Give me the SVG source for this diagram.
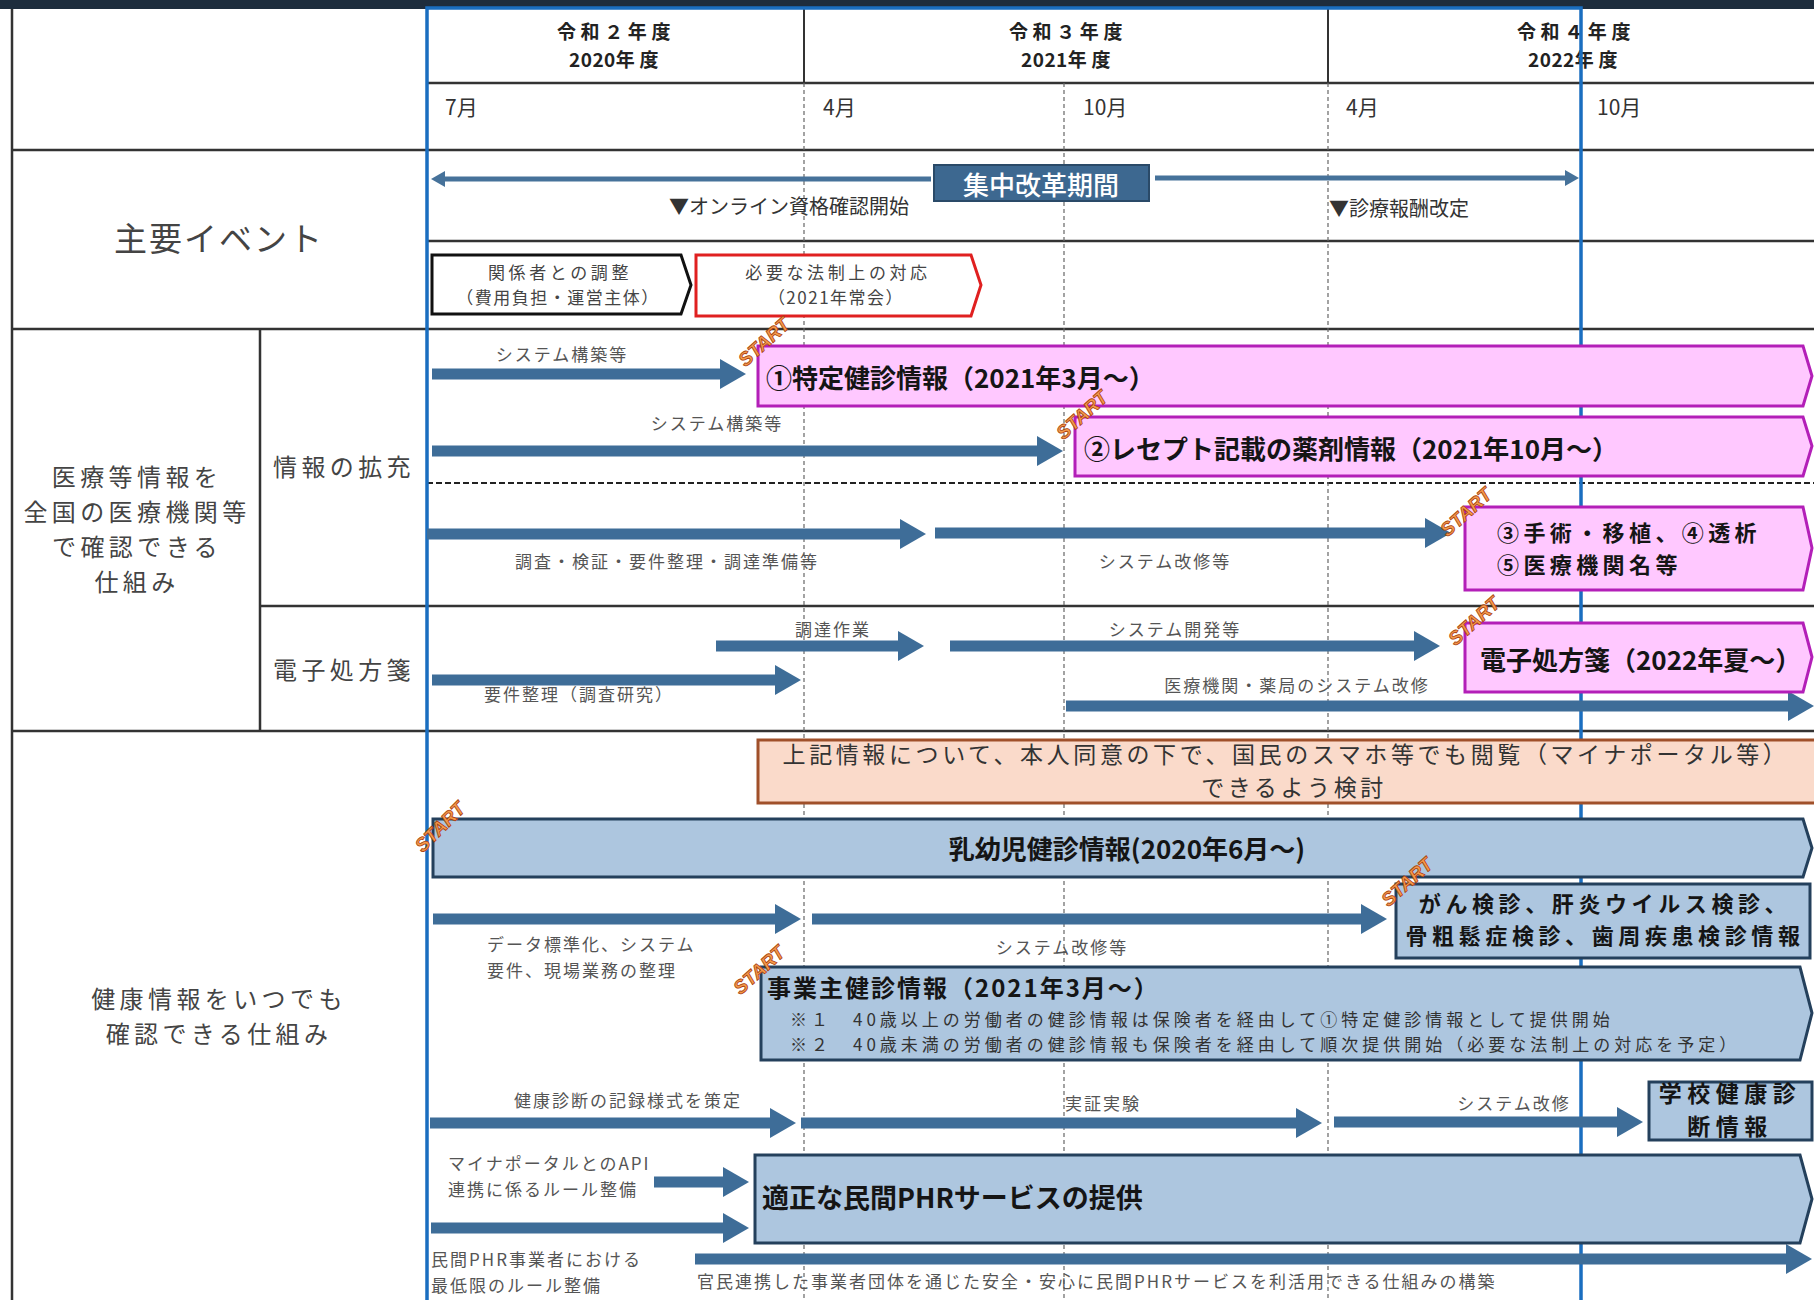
<svg xmlns="http://www.w3.org/2000/svg" width="1814" height="1300" viewBox="0 0 1814 1300">
<defs>
<style>
text{font-family:"Noto Sans CJK JP","Noto Sans CJK SC",sans-serif;dominant-baseline:central}
.yr{font-size:19px;letter-spacing:4.6px;font-weight:bold;fill:#222;text-anchor:middle}
.dg{letter-spacing:0.5px}
.mo{font-size:21px;fill:#333}
.side{font-size:24px;letter-spacing:4.4px;fill:#444;text-anchor:middle}
.ev{font-size:20px;fill:#333}
.pent{font-size:17px;fill:#444;text-anchor:middle}
.lbl{font-size:17px;letter-spacing:2px;fill:#555}
.c{text-anchor:middle}
.big{font-size:26px;font-weight:bold;fill:#151515}
.big2{font-size:22px;letter-spacing:4.4px;font-weight:bold;fill:#151515}
.note{font-size:17px;letter-spacing:4px;fill:#333}
.start{font-family:"Liberation Sans",Arial,sans-serif;font-size:19px;font-weight:bold;font-style:italic;fill:#F59A4A;stroke:#A83C0C;stroke-width:0.8;text-anchor:middle}
.grid{stroke:#333;stroke-width:2.5;fill:none}
.dash{stroke:#666;stroke-width:1.2;stroke-dasharray:4 3;fill:none}
.arr{stroke:#3E6D98;stroke-width:11;fill:none;marker-end:url(#ah)}
.thin{stroke:#46729A;stroke-width:5;fill:none;marker-end:url(#ahs)}
.pink{fill:#FFC8FF;stroke:#B31FB8;stroke-width:3}
.blue{fill:#ADC6DF;stroke:#24405C;stroke-width:3}
</style>
<marker id="ah" markerUnits="userSpaceOnUse" markerWidth="26" markerHeight="30" refX="0" refY="15" orient="auto"><path d="M0,0 L26,15 L0,30 Z" fill="#3E6D98"/></marker>
<marker id="ahs" markerUnits="userSpaceOnUse" markerWidth="14" markerHeight="16" refX="0" refY="8" orient="auto"><path d="M0,0 L14,8 L0,16 Z" fill="#46729A"/></marker>
</defs>
<rect x="0" y="0" width="1814" height="1300" fill="#fff"/>
<rect x="0" y="0" width="1814" height="9" fill="#1E2D3D"/>

<g id="grid">
<line class="grid" x1="12" y1="9" x2="12" y2="1300"/>
<line class="grid" x1="427" y1="83" x2="1814" y2="83"/>
<line class="grid" x1="12" y1="150" x2="1814" y2="150"/>
<line class="grid" x1="427" y1="241" x2="1814" y2="241"/>
<line class="grid" x1="12" y1="329" x2="1814" y2="329"/>
<line class="grid" x1="260" y1="329" x2="260" y2="731"/>
<line class="grid" x1="260" y1="606" x2="1814" y2="606"/>
<line class="grid" x1="12" y1="731" x2="1814" y2="731"/>
<line x1="427" y1="483" x2="1814" y2="483" stroke="#222" stroke-width="2" stroke-dasharray="6 3"/>
<line x1="804" y1="9" x2="804" y2="83" stroke="#333" stroke-width="2"/>
<line x1="1328" y1="9" x2="1328" y2="83" stroke="#333" stroke-width="2"/>
<line class="dash" x1="804" y1="83" x2="804" y2="1300"/>
<line class="dash" x1="1064" y1="83" x2="1064" y2="1300"/>
<line class="dash" x1="1328" y1="83" x2="1328" y2="1300"/>
</g>

<g id="header">
<text class="yr" x="616" y="30">令和２年度</text>
<text class="yr" x="616" y="58"><tspan class="dg">2020</tspan>年度</text>
<text class="yr" x="1068" y="30">令和３年度</text>
<text class="yr" x="1068" y="58"><tspan class="dg">2021</tspan>年度</text>
<text class="yr" x="1576" y="30">令和４年度</text>
<text class="yr" x="1575" y="58"><tspan class="dg">2022</tspan>年度</text>
<text class="mo" x="445" y="106">7月</text>
<text class="mo" x="823" y="106">4月</text>
<text class="mo" x="1083" y="106">10月</text>
<text class="mo" x="1346" y="106">4月</text>
<text class="mo" x="1597" y="106">10月</text>
</g>

<g id="side-labels">
<text class="side" x="219" y="237" style="font-size:33px;letter-spacing:2px">主要イベント</text>
<text class="side" x="137" y="475">医療等情報を</text>
<text class="side" x="137" y="510">全国の医療機関等</text>
<text class="side" x="137" y="545">で確認できる</text>
<text class="side" x="137" y="580">仕組み</text>
<text class="side" x="344" y="465">情報の拡充</text>
<text class="side" x="344" y="668">電子処方箋</text>
<text class="side" x="219" y="997">健康情報をいつでも</text>
<text class="side" x="219" y="1032">確認できる仕組み</text>
</g>

<rect id="frame" x="427" y="8" width="1154" height="1300" fill="none" stroke="#1A6EC0" stroke-width="3.5"/>

<g id="connectors">
<line class="thin" x1="931" y1="179" x2="445" y2="179"/>
<line class="thin" x1="1155" y1="178" x2="1565" y2="178"/>
<line class="arr" x1="432" y1="374" x2="720" y2="374"/>
<line class="arr" x1="432" y1="451" x2="1037" y2="451"/>
<line class="arr" x1="427" y1="534" x2="900" y2="534"/>
<line class="arr" x1="935" y1="533" x2="1425" y2="533"/>
<line class="arr" x1="716" y1="646" x2="898" y2="646"/>
<line class="arr" x1="432" y1="680" x2="775" y2="680"/>
<line class="arr" x1="950" y1="646" x2="1414" y2="646"/>
<line class="arr" x1="1066" y1="706" x2="1788" y2="706"/>
<line class="arr" x1="433" y1="919" x2="775" y2="919"/>
<line class="arr" x1="812" y1="919" x2="1361" y2="919"/>
<line class="arr" x1="430" y1="1123" x2="770" y2="1123"/>
<line class="arr" x1="801" y1="1123" x2="1296" y2="1123"/>
<line class="arr" x1="1334" y1="1122" x2="1617" y2="1122"/>
<line class="arr" x1="654" y1="1182" x2="723" y2="1182"/>
<line class="arr" x1="431" y1="1228" x2="723" y2="1228"/>
<line class="arr" x1="695" y1="1259" x2="1786" y2="1259"/>
</g>

<g id="events">
<g id="reform">
<rect x="934" y="165" width="215" height="36" fill="#3D6890" stroke="#2A4A68" stroke-width="2"/>
<text x="1041" y="183" class="c" style="font-size:26px;font-weight:500;fill:#fff">集中改革期間</text>
</g>
<text class="ev" x="669" y="205">▼オンライン資格確認開始</text>
<text class="ev" x="1329" y="207">▼診療報酬改定</text>
<g id="coord">
<path d="M432,255 H681 L691,285 L681,314 H432 Z" fill="#fff" stroke="#111" stroke-width="3"/>
<text class="pent" x="560" y="271" style="letter-spacing:3.6px">関係者との調整</text>
<text class="pent" x="558" y="296" style="letter-spacing:1.5px">（費用負担・運営主体）</text>
</g>
<g id="legal">
<path d="M696,255 H971 L981,285 L971,316 H696 Z" fill="#fff" stroke="#E02020" stroke-width="3"/>
<text class="pent" x="838" y="271" style="letter-spacing:3.6px">必要な法制上の対応</text>
<text class="pent" x="836" y="296" style="letter-spacing:1.5px">（2021年常会）</text>
</g>
</g>

<g id="labels">
<text class="lbl c" x="562" y="353">システム構築等</text>
<text class="lbl c" x="717" y="422">システム構築等</text>
<text class="lbl c" x="667" y="560">調査・検証・要件整理・調達準備等</text>
<text class="lbl c" x="1165" y="560">システム改修等</text>
<text class="lbl c" x="833" y="628">調達作業</text>
<text class="lbl c" x="579" y="693">要件整理（調査研究）</text>
<text class="lbl c" x="1175" y="628">システム開発等</text>
<text class="lbl c" x="1297" y="684">医療機関・薬局のシステム改修</text>
<text class="lbl" x="487" y="943">データ標準化、システム</text>
<text class="lbl" x="487" y="969">要件、現場業務の整理</text>
<text class="lbl c" x="1062" y="946">システム改修等</text>
<text class="lbl c" x="628" y="1099">健康診断の記録様式を策定</text>
<text class="lbl" x="1065" y="1102">実証実験</text>
<text class="lbl c" x="1514" y="1102">システム改修</text>
<text class="lbl" x="448" y="1162">マイナポータルとのAPI</text>
<text class="lbl" x="448" y="1188">連携に係るルール整備</text>
<text class="lbl" x="431" y="1258">民間PHR事業者における</text>
<text class="lbl" x="431" y="1284">最低限のルール整備</text>
<text class="lbl" x="697" y="1280">官民連携した事業者団体を通じた安全・安心に民間PHRサービスを利活用できる仕組みの構築</text>
</g>

<g id="n-tokutei">
<path class="pink" d="M758,346 H1803 L1812,376 L1803,406 H758 Z"/>
<text class="big" x="766" y="376">①特定健診情報（2021年3月～）</text>
</g>
<g id="n-receipt">
<path class="pink" d="M1075,417 H1803 L1812,446 L1803,476 H1075 Z"/>
<text class="big" x="1084" y="447">②レセプト記載の薬剤情報（2021年10月～）</text>
</g>
<g id="n-surgery">
<path class="pink" d="M1465,507 H1803 L1812,548 L1803,590 H1465 Z"/>
<text class="big2" x="1497" y="531">③手術・移植、④透析</text>
<text class="big2" x="1497" y="563">⑤医療機関名等</text>
</g>
<g id="n-eprescription">
<path class="pink" d="M1465,623 H1803 L1812,657 L1803,692 H1465 Z"/>
<text class="big" x="1480" y="658">電子処方箋（2022年夏～）</text>
</g>
<g id="n-smartphone">
<rect x="758" y="740" width="1070" height="63" fill="#FADACA" stroke="#A0502A" stroke-width="3"/>
<text x="1286" y="753" class="c" style="font-size:23px;fill:#333;letter-spacing:3.6px">上記情報について、本人同意の下で、国民のスマホ等でも閲覧（マイナポータル等）</text>
<text x="1294" y="786" class="c" style="font-size:23px;fill:#333;letter-spacing:3.6px">できるよう検討</text>
</g>
<g id="n-infant">
<path class="blue" d="M433,819 H1803 L1812,848 L1803,877 H433 Z"/>
<text class="big c" x="1127" y="847">乳幼児健診情報(2020年6月～)</text>
</g>
<g id="n-cancer">
<rect class="blue" x="1396" y="884" width="414" height="74"/>
<text class="big2 c" x="1605" y="902" style="letter-spacing:4.6px">がん検診、肝炎ウイルス検診、</text>
<text class="big2 c" x="1605" y="934" style="letter-spacing:4.6px">骨粗鬆症検診、歯周疾患検診情報</text>
</g>
<g id="n-employer">
<path class="blue" d="M761,967 H1800 L1812,1013 L1800,1060 H761 Z"/>
<text class="big" x="767" y="986" style="font-size:24px;letter-spacing:2px">事業主健診情報（2021年3月～）</text>
<text class="note" x="790" y="1018">※１　40歳以上の労働者の健診情報は保険者を経由して①特定健診情報として提供開始</text>
<text class="note" x="790" y="1043">※２　40歳未満の労働者の健診情報も保険者を経由して順次提供開始（必要な法制上の対応を予定）</text>
</g>
<g id="n-school">
<rect class="blue" x="1649" y="1082" width="163" height="58"/>
<text class="big2 c" x="1730" y="1092" style="font-size:23px;letter-spacing:5.5px">学校健康診</text>
<text class="big2 c" x="1730" y="1125" style="font-size:23px;letter-spacing:5.5px">断情報</text>
</g>
<g id="n-phr">
<path class="blue" d="M755,1155 H1800 L1812,1199 L1800,1243 H755 Z"/>
<text class="big" x="762" y="1196" style="font-size:27px">適正な民間PHRサービスの提供</text>
</g>

<g id="start-badges">
<text class="start" transform="translate(764,342) rotate(-42)">START</text>
<text class="start" transform="translate(1082,415) rotate(-42)">START</text>
<text class="start" transform="translate(1466,512) rotate(-42)">START</text>
<text class="start" transform="translate(1474,621) rotate(-42)">START</text>
<text class="start" transform="translate(440,827) rotate(-45)">START</text>
<text class="start" transform="translate(1407,882) rotate(-42)">START</text>
<text class="start" transform="translate(759,970) rotate(-42)">START</text>
</g>
</svg>
